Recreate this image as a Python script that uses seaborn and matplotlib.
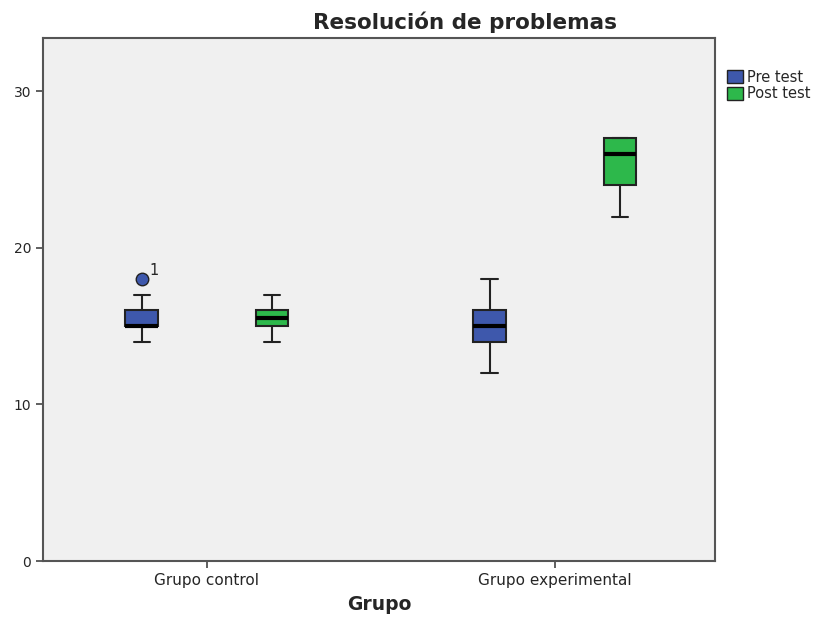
import pandas as pd
import matplotlib.pyplot as plt
import seaborn as sns
from matplotlib.patches import Patch

# values (quartiles / whiskers reproduced by these samples)
grupos = ["Grupo control", "Grupo experimental"]
momentos = ["Pre test", "Post test"]
control_pre = [14, 15, 15, 15, 15, 15, 16, 16, 17, 18]
control_post = [14, 15, 15, 15, 15, 16, 16, 16, 16, 17]
exper_pre = [12, 14, 14, 14, 15, 15, 16, 16, 16, 18]
exper_post = [22, 24, 24, 24, 26, 26, 27, 27, 27, 27]
colores = ["#3e58ac", "#2db84b"]

rows = []
for g, m, vals in [(grupos[0], momentos[0], control_pre),
                   (grupos[0], momentos[1], control_post),
                   (grupos[1], momentos[0], exper_pre),
                   (grupos[1], momentos[1], exper_post)]:
    for v in vals:
        rows.append({"Grupo": g, "Momento": m, "Puntaje": v})
df = pd.DataFrame(rows)

sns.set_style("white")
plt.rcParams['font.family'] = ['DejaVu Sans']

fig = plt.figure(figsize=(8.16, 6.18), dpi=100)
ax = fig.add_axes([0.0527, 0.0922, 0.8235, 0.8463])
ax.set_facecolor("#f0f0f0")

sns.boxplot(data=df, x="Grupo", y="Puntaje", hue="Momento", order=grupos,
            hue_order=momentos, palette=colores, width=0.75, gap=0.75,
            linecolor="#222222", linewidth=1.5, saturation=1,
            medianprops={"color": "black", "linewidth": 3},
            flierprops={"marker": "o", "markerfacecolor": colores[0],
                        "markeredgecolor": "#222222", "markersize": 9},
            legend=False, ax=ax)

# outlier case label (SPSS style)
ax.text(-0.165, 18.1, "1", fontsize=10.5, ha="left", va="bottom")

ax.set_xlim(-0.471, 1.46)
ax.set_ylim(0, 33.4)
ax.set_yticks([0, 10, 20, 30])
ax.tick_params(axis="both", direction="out", length=5, width=1.2,
               color="#444444", labelsize=10, left=True, bottom=True)
ax.tick_params(axis="x", labelsize=11)
for s in ax.spines.values():
    s.set_color("#555555")
    s.set_linewidth(1.5)

ax.set_ylabel("")
ax.set_xlabel("Grupo", fontsize=13.5, fontweight="bold", labelpad=5)
fig.text(465 / 816, 1 - 22 / 618, "Resolución de problemas", fontsize=15.5,
         fontweight="bold", ha="center", va="center")

handles = [Patch(facecolor=c, edgecolor="#222222", label=m)
           for c, m in zip(colores, momentos)]
fig.legend(handles=handles, loc="upper left", bbox_to_anchor=(721 / 816, 1 - 64 / 618),
           frameon=False, fontsize=10.5, handlelength=1.1, handleheight=1.0,
           handletextpad=0.3, labelspacing=0.1, borderaxespad=0)

fig.savefig("out.png", dpi=100)
